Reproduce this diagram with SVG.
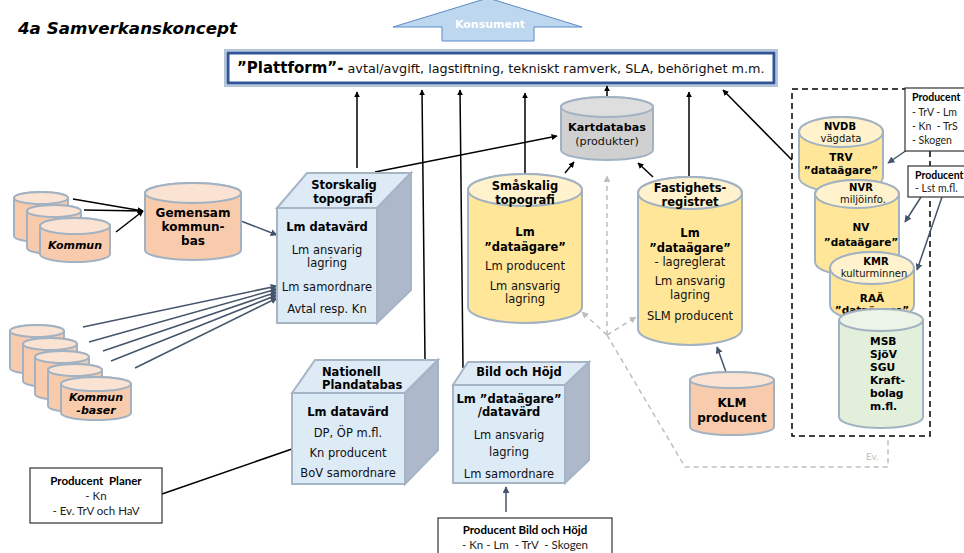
<svg xmlns="http://www.w3.org/2000/svg" width="964" height="553" viewBox="0 0 964 553">
<defs>
<style>
.t{font-family:"DejaVu Sans",Verdana,sans-serif;fill:#111}
.b{font-weight:bold;fill:#000}
.c{text-anchor:middle}
.s11{font-size:11.5px}
.s10{font-size:11.5px}
.r{font-size:10.5px}
.rs{font-size:10px}
.m{font-size:10.7px}
.p{font-family:Lato,"Open Sans","Liberation Sans",sans-serif;font-size:10.5px;fill:#222}
.cylO{fill:#f8cbad;stroke:#a2b2c2;stroke-width:2}
.topO{fill:#fbe3d3;stroke:#a2b2c2;stroke-width:2}
.cylY{fill:#ffe699;stroke:#a2b2c2;stroke-width:2}
.topY{fill:#fff2cc;stroke:#a2b2c2;stroke-width:2}
.cylG{fill:#d0d0d0;stroke:#a2b2c2;stroke-width:2}
.topG{fill:#dedede;stroke:#a2b2c2;stroke-width:2}
.cylE{fill:#e2efda;stroke:#a2b2c2;stroke-width:2}
.topE{fill:#ebf4e6;stroke:#a2b2c2;stroke-width:2}
.front{fill:#ddebf7;stroke:#a5b5c5;stroke-width:2}
.topB{fill:#deebf7;stroke:#a5b5c5;stroke-width:2}
.side{fill:#adb9ca;stroke:#a5b5c5;stroke-width:2}
.k{stroke:#000;stroke-width:1.5;fill:none}
.bl{stroke:#44546a;stroke-width:1.5;fill:none}
.gd{stroke:#bfbfbf;stroke-width:1.5;fill:none;stroke-dasharray:5 4}
.box{fill:#fff;stroke:#333;stroke-width:1.2}
</style>
<marker id="ak" viewBox="0 0 10 10" refX="9" refY="5" markerWidth="6" markerHeight="6" orient="auto" markerUnits="userSpaceOnUse"><path d="M0,0 L10,5 L0,10 Z" fill="#000"/></marker>
<marker id="ab" viewBox="0 0 10 10" refX="9" refY="5" markerWidth="7" markerHeight="7" orient="auto" markerUnits="userSpaceOnUse"><path d="M0,0 L10,5 L0,10 Z" fill="#44546a"/></marker>
<marker id="ag" viewBox="0 0 10 10" refX="9" refY="5" markerWidth="7" markerHeight="7" orient="auto" markerUnits="userSpaceOnUse"><path d="M0,0 L10,5 L0,10 Z" fill="#bfbfbf"/></marker>
</defs>
<rect width="964" height="553" fill="#fff"/>

<text x="18" y="34" class="t b" style="font-size:16.7px;font-style:italic">4a Samverkanskoncept</text>

<g id="konsument">
<polygon points="488,-2 582,27 534,27 534,41 442,41 442,27 393,27" fill="#bdd7ee" stroke="#5b8ac6" stroke-width="1"/>
<text x="490" y="28" class="t b c" style="fill:#fff;font-size:11px">Konsument</text>
</g>

<g id="plattform">
<rect x="225" y="50" width="552" height="36" fill="#fff" stroke="#b4c4da" stroke-width="2"/>
<rect x="228" y="53" width="546" height="30" fill="#fff" stroke="#2f5597" stroke-width="3"/>
<text x="237" y="73" class="t"><tspan class="b" style="font-size:15px">”Plattform”-</tspan><tspan style="font-size:12.8px"> avtal/avgift, lagstiftning, tekniskt ramverk, SLA, behörighet m.m.</tspan></text>
</g>

<g id="dashed-group">
<rect x="792" y="89" width="138" height="347" fill="none" stroke="#000" stroke-width="1.5" stroke-dasharray="6 4"/>
</g>

<g id="connectors">
<line x1="357" y1="168" x2="357" y2="92" class="k" marker-end="url(#ak)"/>
<line x1="425" y1="360" x2="422" y2="90" class="k" marker-end="url(#ak)"/>
<line x1="463" y1="368" x2="460" y2="90" class="k" marker-end="url(#ak)"/>
<line x1="525" y1="174" x2="525" y2="93" class="k" marker-end="url(#ak)"/>
<line x1="607" y1="97" x2="607" y2="86" class="k" marker-end="url(#ak)"/>
<line x1="689" y1="177" x2="689" y2="92" class="k" marker-end="url(#ak)"/>
<line x1="792" y1="160" x2="723" y2="90" class="k" marker-end="url(#ak)"/>
<line x1="375" y1="172" x2="557" y2="136" class="k" marker-end="url(#ak)"/>
<line x1="565" y1="173" x2="574" y2="162" class="k" marker-end="url(#ak)"/>
<line x1="653" y1="177" x2="638" y2="163" class="k" marker-end="url(#ak)"/>
<line x1="73" y1="199" x2="143" y2="211" class="k" marker-end="url(#ak)"/>
<line x1="84" y1="210" x2="143" y2="211" class="k" marker-end="url(#ak)"/>
<line x1="116" y1="232" x2="143" y2="211" class="k" marker-end="url(#ak)"/>
<line x1="241" y1="221" x2="277" y2="235" class="bl" marker-end="url(#ab)"/>
<line x1="83" y1="327" x2="277" y2="286" class="bl" marker-end="url(#ab)"/>
<line x1="89" y1="342" x2="277" y2="289" class="bl" marker-end="url(#ab)"/>
<line x1="103" y1="351" x2="277" y2="292" class="bl" marker-end="url(#ab)"/>
<line x1="111" y1="361" x2="277" y2="295" class="bl" marker-end="url(#ab)"/>
<line x1="135" y1="368" x2="277" y2="298" class="bl" marker-end="url(#ab)"/>
<line x1="162" y1="494" x2="292" y2="449" class="k"/>
<line x1="506" y1="512" x2="506" y2="487" class="bl" marker-end="url(#ab)"/>
<line x1="726" y1="372" x2="717" y2="347" class="bl" marker-end="url(#ab)"/>
<line x1="907" y1="150" x2="888" y2="163" class="bl" marker-end="url(#ab)"/>
<line x1="921" y1="197" x2="905" y2="222" class="bl" marker-end="url(#ab)"/>
<line x1="942" y1="197" x2="917" y2="270" class="bl" marker-end="url(#ab)"/>
<line x1="607" y1="335" x2="607" y2="176" class="gd" marker-end="url(#ag)"/>
<line x1="607" y1="335" x2="582" y2="312" class="gd" marker-end="url(#ag)"/>
<line x1="607" y1="335" x2="636" y2="317" class="gd" marker-end="url(#ag)"/>
<polyline points="607,335 685,467 888,467 888,438" class="gd"/>
<text x="866" y="460" class="p" style="fill:#bfbfbf;font-size:10px">Ev.</text>
</g>

<g id="kommun">
<path d="M14,198 L14,236 A27,6 0 0 0 68,236 L68,198 A27,6 0 0 0 14,198 Z" class="cylO"/>
<ellipse cx="41" cy="198" rx="27" ry="6" class="topO"/>
<path d="M27,211 L27,248 A27,6 0 0 0 81,248 L81,211 A27,6 0 0 0 27,211 Z" class="cylO"/>
<ellipse cx="54" cy="211" rx="27" ry="6" class="topO"/>
<path d="M40,226 L40,254 A35,8 0 0 0 110,254 L110,226 A35,8 0 0 0 40,226 Z" class="cylO"/>
<ellipse cx="75" cy="226" rx="35" ry="8" class="topO"/>
<text x="75" y="249" class="t b c" style="font-size:11px;font-style:italic">Kommun</text>
</g>

<g id="gemensam">
<path d="M145,193 L145,250 A48,10 0 0 0 241,250 L241,193 A48,10 0 0 0 145,193 Z" class="cylO"/>
<ellipse cx="193" cy="193" rx="48" ry="10" class="topO"/>
<text x="193" y="217" class="t b c" style="font-size:12px">Gemensam</text>
<text x="193" y="231" class="t b c" style="font-size:12px">kommun-</text>
<text x="193" y="245" class="t b c" style="font-size:12px">bas</text>
</g>

<g id="kommunbaser">
<path d="M10,331 L10,368 A27,6 0 0 0 64,368 L64,331 A27,6 0 0 0 10,331 Z" class="cylO"/>
<ellipse cx="37" cy="331" rx="27" ry="6" class="topO"/>
<path d="M23,344 L23,381 A27,6 0 0 0 77,381 L77,344 A27,6 0 0 0 23,344 Z" class="cylO"/>
<ellipse cx="50" cy="344" rx="27" ry="6" class="topO"/>
<path d="M35,357 L35,394 A27,6 0 0 0 89,394 L89,357 A27,6 0 0 0 35,357 Z" class="cylO"/>
<ellipse cx="62" cy="357" rx="27" ry="6" class="topO"/>
<path d="M48,370 L48,406 A27,6 0 0 0 102,406 L102,370 A27,6 0 0 0 48,370 Z" class="cylO"/>
<ellipse cx="75" cy="370" rx="27" ry="6" class="topO"/>
<path d="M61,384 L61,413 A35,7 0 0 0 131,413 L131,384 A35,7 0 0 0 61,384 Z" class="cylO"/>
<ellipse cx="96" cy="384" rx="35" ry="7" class="topO"/>
<text x="96" y="401" class="t b c" style="font-size:11px;font-style:italic">Kommun</text>
<text x="96" y="414" class="t b c" style="font-size:11px;font-style:italic">-baser</text>
</g>

<g id="storskalig">
<polygon points="277,208 307,173 411,173 377,208" class="topB"/>
<polygon points="377,208 411,173 411,290 377,323" class="side"/>
<rect x="277" y="208" width="100" height="115" class="front"/>
<text x="344" y="189" class="t b c s11">Storskalig</text>
<text x="343" y="203" class="t b c s11">topografi</text>
<text x="327" y="231" class="t b c s11">Lm datavärd</text>
<text x="327" y="254" class="t c s10">Lm ansvarig</text>
<text x="327" y="267" class="t c s10">lagring</text>
<text x="327" y="291" class="t c s10">Lm samordnare</text>
<text x="327" y="313" class="t c s10">Avtal resp. Kn</text>
</g>

<g id="nationell">
<polygon points="292,393 315,360 438,360 405,393" class="topB"/>
<polygon points="405,393 438,360 438,450 405,484" class="side"/>
<rect x="292" y="393" width="113" height="91" class="front"/>
<text x="322" y="376" class="t b s11">Nationell</text>
<text x="322" y="389" class="t b s11">Plandatabas</text>
<text x="348" y="416" class="t b c s11">Lm datavärd</text>
<text x="348" y="437" class="t c s10">DP, ÖP m.fl.</text>
<text x="348" y="457" class="t c s10">Kn producent</text>
<text x="348" y="477" class="t c s10">BoV samordnare</text>
</g>

<g id="bildhojd">
<polygon points="453,385 468,362 589,362 565,385" class="topB"/>
<polygon points="565,385 589,362 589,460 565,483" class="side"/>
<rect x="453" y="385" width="112" height="98" class="front"/>
<text x="519" y="376" class="t b c s11">Bild och Höjd</text>
<text x="509" y="403" class="t b c s11">Lm ”dataägare”</text>
<text x="509" y="416" class="t b c s11">/datavärd</text>
<text x="509" y="439" class="t c s10">Lm ansvarig</text>
<text x="509" y="456" class="t c s10">lagring</text>
<text x="509" y="478" class="t c s10">Lm samordnare</text>
</g>

<g id="kartdatabas">
<path d="M561,107 L561,150 A46,10 0 0 0 653,150 L653,107 A46,10 0 0 0 561,107 Z" class="cylG"/>
<ellipse cx="607" cy="107" rx="46" ry="10" class="topG"/>
<text x="607" y="131" class="t b c" style="font-size:11.2px">Kartdatabas</text>
<text x="607" y="145" class="t c" style="font-size:11.2px">(produkter)</text>
</g>

<g id="smaskalig">
<path d="M468,190 L468,307 A57,16 0 0 0 582,307 L582,190 A57,16 0 0 0 468,190 Z" class="cylY"/>
<ellipse cx="525" cy="190" rx="57" ry="16" class="topY"/>
<text x="525" y="190" class="t b c s11">Småskalig</text>
<text x="525" y="204" class="t b c s11">topografi</text>
<text x="525" y="236" class="t b c s11">Lm</text>
<text x="525" y="251" class="t b c s11">”dataägare”</text>
<text x="525" y="270" class="t c s10">Lm producent</text>
<text x="525" y="290" class="t c s10">Lm ansvarig</text>
<text x="525" y="303" class="t c s10">lagring</text>
</g>

<g id="fastighets">
<path d="M638,193 L638,329 A52,16 0 0 0 742,329 L742,193 A52,16 0 0 0 638,193 Z" class="cylY"/>
<ellipse cx="690" cy="193" rx="52" ry="16" class="topY"/>
<text x="690" y="192" class="t b c s11">Fastighets-</text>
<text x="690" y="206" class="t b c s11">registret</text>
<text x="690" y="237" class="t b c s11">Lm</text>
<text x="690" y="252" class="t b c s11">”dataägare”</text>
<text x="690" y="266" class="t c s10">- lagreglerat</text>
<text x="690" y="285" class="t c s10">Lm ansvarig</text>
<text x="690" y="299" class="t c s10">lagring</text>
<text x="690" y="320" class="t c s10">SLM producent</text>
</g>

<g id="klm">
<path d="M690,380 L690,427 A42,8 0 0 0 774,427 L774,380 A42,8 0 0 0 690,380 Z" class="cylO"/>
<ellipse cx="732" cy="380" rx="42" ry="8" class="topO"/>
<text x="732" y="407" class="t b c" style="font-size:12px">KLM</text>
<text x="732" y="422" class="t b c" style="font-size:12px">producent</text>
</g>

<g id="nvdb">
<path d="M799,132 L799,177 A42,15 0 0 0 883,177 L883,132 A42,15 0 0 0 799,132 Z" class="cylY"/>
<ellipse cx="841" cy="132" rx="42" ry="15" class="topY"/>
<text x="840" y="130" class="t b c rs">NVDB</text>
<text x="841" y="142" class="t c rs">vägdata</text>
<text x="841" y="161" class="t b c r">TRV</text>
<text x="841" y="174" class="t b c r">”dataägare”</text>
</g>

<g id="nvr">
<path d="M815,194 L815,262 A42,14 0 0 0 899,262 L899,194 A42,14 0 0 0 815,194 Z" class="cylY"/>
<ellipse cx="857" cy="194" rx="42" ry="14" class="topY"/>
<text x="861" y="191" class="t b c rs">NVR</text>
<text x="863" y="203" class="t c rs">miljöinfo.</text>
<text x="861" y="231" class="t b c r">NV</text>
<text x="861" y="246" class="t b c r">”dataägare”</text>
</g>

<g id="kmr">
<path d="M830,268 L830,305 A42,16 0 0 0 914,305 L914,268 A42,16 0 0 0 830,268 Z" class="cylY"/>
<ellipse cx="872" cy="268" rx="42" ry="16" class="topY"/>
<text x="876" y="265" class="t b c rs">KMR</text>
<text x="874" y="277" class="t c rs">kulturminnen</text>
<text x="872" y="302" class="t b c r">RAÄ</text>
<text x="872" y="314" class="t b c r">”dataägare”</text>
</g>

<g id="msb">
<path d="M839,320 L839,417 A42,11 0 0 0 923,417 L923,320 A42,11 0 0 0 839,320 Z" class="cylE"/>
<ellipse cx="881" cy="320" rx="42" ry="11" class="topE"/>
<text x="870" y="345" class="t b m">MSB</text>
<text x="870" y="358" class="t b m">SjöV</text>
<text x="870" y="371" class="t b m">SGU</text>
<text x="870" y="384" class="t b m">Kraft-</text>
<text x="870" y="397" class="t b m">bolag</text>
<text x="870" y="410" class="t b m">m.fl.</text>
</g>

<g id="producent-1">
<rect x="905" y="88" width="70" height="63" class="box"/>
<text x="912" y="101" class="p" style="font-weight:bold;fill:#000">Producent</text>
<text x="912" y="116" class="p" xml:space="preserve">- TrV - Lm</text>
<text x="912" y="130" class="p" xml:space="preserve">- Kn  - TrS</text>
<text x="912" y="144" class="p">- Skogen</text>
</g>

<g id="producent-2">
<rect x="908" y="166" width="70" height="31" class="box"/>
<text x="915" y="179" class="p" style="font-weight:bold;fill:#000">Producent</text>
<text x="915" y="192" class="p">- Lst m.fl.</text>
</g>

<g id="producent-planer">
<rect x="30" y="468" width="132" height="55" class="box"/>
<text x="96" y="485" class="p c" style="font-weight:bold;fill:#000;font-size:11.5px" xml:space="preserve">Producent  Planer</text>
<text x="96" y="500" class="p c" style="font-size:11.5px">- Kn</text>
<text x="96" y="515" class="p c" style="font-size:11.5px">- Ev. TrV och HaV</text>
</g>

<g id="producent-bild">
<rect x="438" y="518" width="174" height="40" class="box"/>
<text x="525" y="534" class="p c" style="font-weight:bold;fill:#000;font-size:11.5px">Producent Bild och Höjd</text>
<text x="525" y="549" class="p c" style="font-size:11.5px" xml:space="preserve">- Kn - Lm  - TrV  - Skogen</text>
</g>
</svg>
